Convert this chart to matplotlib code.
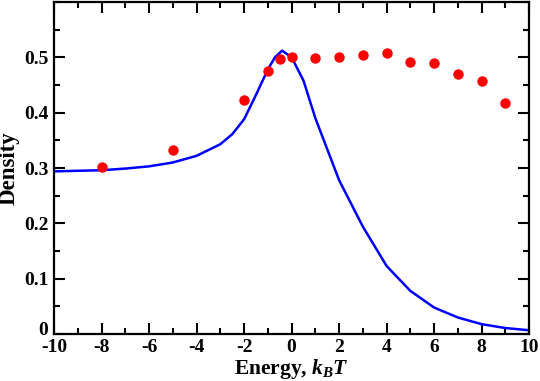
import matplotlib
matplotlib.use("Agg")
import matplotlib.pyplot as plt
import matplotlib.transforms as mtransforms
from matplotlib.ticker import MultipleLocator

plt.rcParams['font.family'] = ['Liberation Serif', 'DejaVu Serif']
plt.rcParams['font.weight'] = 'bold'
plt.rcParams['axes.unicode_minus'] = False
plt.rcParams['mathtext.fontset'] = 'custom'
plt.rcParams['mathtext.it'] = 'Liberation Serif:bold:italic'
plt.rcParams['mathtext.rm'] = 'Liberation Serif:bold'

# Blue curve (model)
curve_x = [-10, -9, -8, -7, -6, -5, -4, -3, -2.5, -2, -1.5, -1, -0.7, -0.4, 0, 0.5, 1, 2, 3, 4, 5, 6, 7, 8, 9, 10]
curve_y = [0.294, 0.295, 0.296, 0.299, 0.303, 0.310, 0.322, 0.343, 0.361, 0.388, 0.432, 0.478, 0.500, 0.512, 0.500,
           0.458, 0.390, 0.278, 0.194, 0.123, 0.078, 0.048, 0.030, 0.018, 0.011, 0.007]

# Red points (data)
pts_x = [-8, -5, -2, -1, -0.5, 0, 1, 2, 3, 4, 5, 6, 7, 8, 9]
pts_y = [0.301, 0.333, 0.422, 0.475, 0.496, 0.500, 0.499, 0.500, 0.504, 0.507, 0.491, 0.490, 0.469, 0.458, 0.418]

fig = plt.figure(figsize=(5.4, 3.81), dpi=100)
ax = fig.add_axes([0.1, 0.123, 0.88, 0.872])
ax.plot(curve_x, curve_y, color='#0000ff', lw=1.8, zorder=2)
ax.plot(pts_x, pts_y, 'o', color='#ff0000', ms=7.5, mec='none', zorder=3)

ax.set_xlim(-10, 10)
ax.set_ylim(0, 0.6)
ax.xaxis.set_major_locator(MultipleLocator(2))
ax.xaxis.set_minor_locator(MultipleLocator(1))
ax.yaxis.set_minor_locator(MultipleLocator(0.05))
ax.set_yticks([0, 0.1, 0.2, 0.3, 0.4, 0.5])
ax.set_yticklabels(['0', '0.1', '0.2', '0.3', '0.4', '0.5'])
ax.tick_params(which='both', direction='in', top=True, right=True, width=1.5, labelsize=14)
ax.tick_params(axis='x', pad=3.5)
ax.tick_params(axis='y', pad=4)
ax.tick_params(which='major', length=8)
ax.tick_params(which='minor', length=4.5)
for s in ax.spines.values():
    s.set_linewidth(1.6)

# nudge the y=0 label up slightly so it sits above the "-10" label
lbl0 = ax.get_yticklabels()[0]
lbl0.set_transform(lbl0.get_transform() + mtransforms.ScaledTranslation(0, 4 / 72, fig.dpi_scale_trans))

ax.set_xlabel('Energy, $k_BT$', fontsize=15.5, fontweight='bold', labelpad=0.5)
ax.set_ylabel('Density', fontsize=16.5, fontweight='bold', labelpad=3)

fig.savefig('out.png', dpi=100)
